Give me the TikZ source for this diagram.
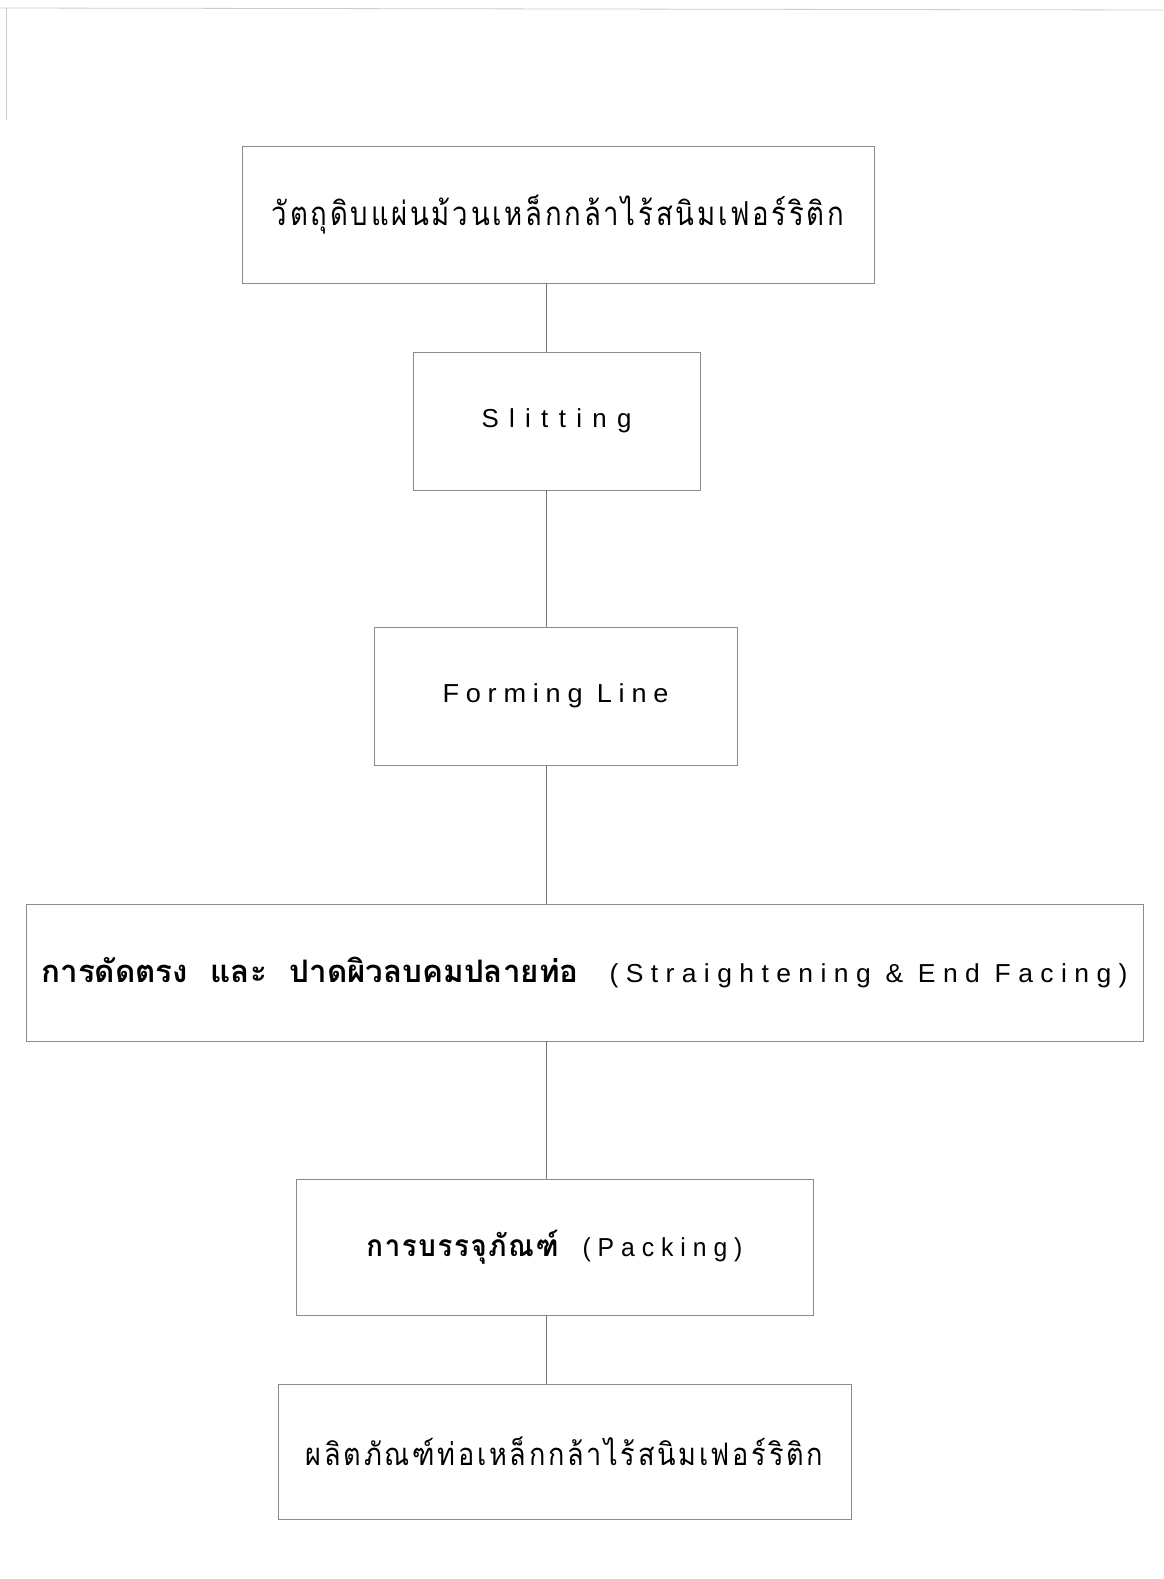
\documentclass[tikz,border=0pt]{standalone}
\usepackage{fontspec}
\usepackage{graphicx}
\setmainfont{Liberation Sans}
\newfontfamily\thaifont[Script=Thai]{Loma}
\newfontfamily\thaispaced[Script=Thai,LetterSpace=10]{Loma}
\begin{document}
\begin{tikzpicture}[x=1pt,y=-1pt]
\tikzset{
  box/.style={draw=black!45, line width=0.9pt, inner sep=0pt, align=center},
  conn/.style={draw=black!55, line width=0.8pt},
  frame/.style={draw=black!20, line width=0.8pt}
}
\fill[white] (0,0) rectangle (1163,1579);
\useasboundingbox (0,0) rectangle (1163,1579);
\draw[frame] (0,8) -- (1163,10);
\draw[frame] (6,8) -- (6,120);
\coordinate (lx) at (546,0);
\node[box, minimum width=632pt, minimum height=137pt] (b1) at (558,214.5)
  {\resizebox{572pt}{\height}{\fontsize{33}{36}\thaispaced วัตถุดิบแผ่นม้วนเหล็กกล้าไร้สนิมเฟอร์ริติก}};
\node[box, minimum width=287pt, minimum height=138pt] (b2) at (556.5,421)
  {\resizebox{150pt}{\height}{\fontsize{26}{28}\selectfont\addfontfeature{LetterSpace=40}Slitting}};
\node[box, minimum width=363pt, minimum height=138pt] (b3) at (555.5,696)
  {\resizebox{226pt}{\height}{\fontsize{26}{28}\selectfont\addfontfeature{LetterSpace=25}Forming Line}};
\node[box, minimum width=1117pt, minimum height=137pt] (b4) at (584.5,972.5)
  {\resizebox{537pt}{\height}{\fontsize{31}{34}\thaifont\bfseries การดัดตรง\hspace{12pt} และ\hspace{12pt} ปาดผิวลบคมปลายท่อ}\hspace{31pt}%
   \resizebox{518pt}{\height}{\fontsize{26}{28}\rmfamily\mdseries\addfontfeature{LetterSpace=28}(Straightening \& End Facing)}};
\node[box, minimum width=517pt, minimum height=136pt] (b5) at (554.5,1247)
  {\resizebox{192pt}{\height}{\fontsize{30}{32}\thaifont\bfseries\addfontfeature{LetterSpace=6}การบรรจุภัณฑ์}\hspace{24pt}%
   \resizebox{160pt}{\height}{\fontsize{26}{28}\selectfont\addfontfeature{LetterSpace=28}(Packing)}};
\node[box, minimum width=573pt, minimum height=135pt] (b6) at (564.5,1451.5)
  {\resizebox{517pt}{\height}{\fontsize{31}{34}\thaispaced ผลิตภัณฑ์ท่อเหล็กกล้าไร้สนิมเฟอร์ริติก}};
\draw[conn] (b1.south -| lx) -- (b2.north -| lx);
\draw[conn] (b2.south -| lx) -- (b3.north -| lx);
\draw[conn] (b3.south -| lx) -- (b4.north -| lx);
\draw[conn] (b4.south -| lx) -- (b5.north -| lx);
\draw[conn] (b5.south -| lx) -- (b6.north -| lx);
\end{tikzpicture}
\end{document}
